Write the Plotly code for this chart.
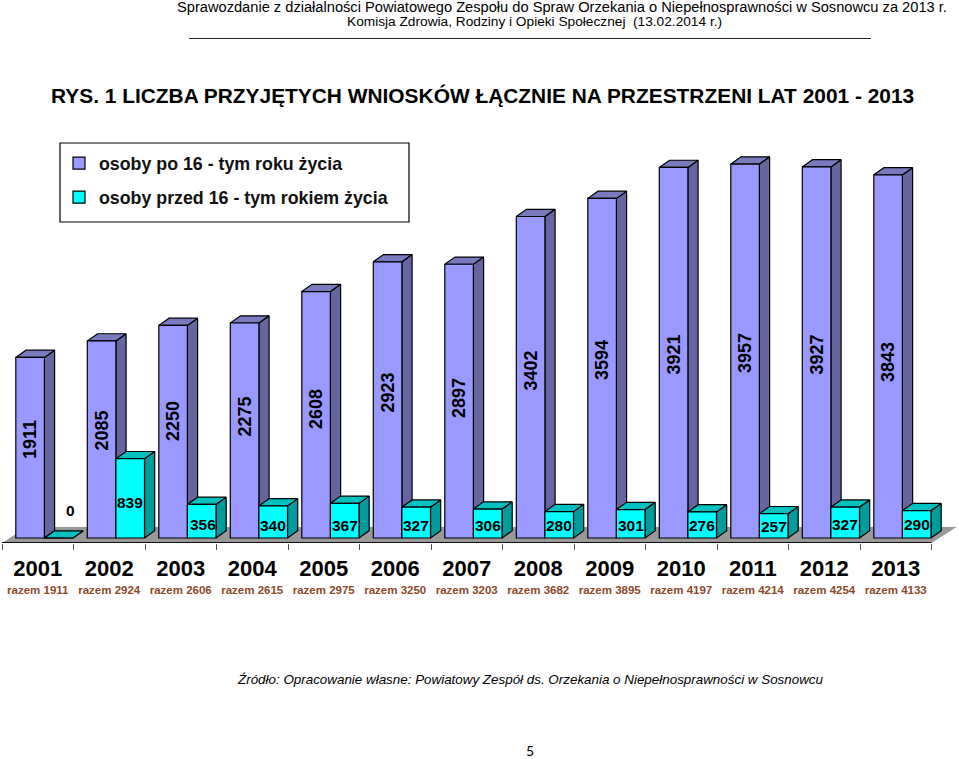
import plotly.graph_objects as go

# ---- data ----
years = ["2001","2002","2003","2004","2005","2006","2007","2008","2009","2010","2011","2012","2013"]
over_16 = [1911,2085,2250,2275,2608,2923,2897,3402,3594,3921,3957,3927,3843]
under_16 = [0,839,356,340,367,327,306,280,301,276,257,327,290]
totals = [1911,2924,2606,2615,2975,3250,3203,3682,3895,4197,4214,4254,4133]
name_over = "osoby po 16 - tym roku życia"
name_under = "osoby przed 16 - tym rokiem życia"

# ---- geometry (page pixels) ----
W, H = 959, 759
PX_X = 71.5          # px per category
PX_Y = 0.0945        # px per value
LEFT = 2             # px of first category boundary
BASE = 538           # px of value 0
AXIS = 543           # px of axis line
TOP = 100
RIGHT = 958
FONT = "Liberation Sans"

x_rng = [-0.5, -0.5 + (RIGHT - LEFT) / PX_X]
y_rng = [-(AXIS - BASE) / PX_Y, (BASE - TOP) / PX_Y]
OFF_A, OFF_B, BW = -0.307, 0.093, 0.40
DX, DY = 10.2 / PX_X, 7.2 / PX_Y
FDX, FDY = 25 / PX_X, 16 / PX_Y
n = len(years)
xs = list(range(n))

def faces(vals, off):
    tx, ty, sx, sy = [], [], [], []
    for i, v in zip(xs, vals):
        l, r = i + off, i + off + BW
        tx += [l, r, r + DX, l + DX, l, None]
        ty += [v, v, v + DY, v + DY, v, None]
        sx += [r, r + DX, r + DX, r, r, None]
        sy += [0, DY, v + DY, v, 0, None]
    return tx, ty, sx, sy

fig = go.Figure()

def poly(x, y, fill, z, line=1.2):
    fig.add_trace(go.Scatter(x=x, y=y, mode="lines", fill="toself", fillcolor=fill,
                             line=dict(color="#000000" if line else fill, width=line or 0.1),
                             showlegend=False, hoverinfo="skip", zorder=z))

# floor
fy0 = y_rng[0]
poly([-0.5, 12.5, 12.5 + FDX, -0.5 + FDX, -0.5], [fy0, fy0, fy0 + FDY, fy0 + FDY, fy0], "#999999", 0, 0)
fig.add_trace(go.Scatter(x=[-0.5, 12.5], y=[fy0, fy0], mode="lines", line=dict(color="#111111", width=2),
                         showlegend=False, hoverinfo="skip", zorder=0, cliponaxis=False))

# purple series
tx, ty, sx, sy = faces(over_16, OFF_A)
poly(sx, sy, "#66669F", 1)
poly(tx, ty, "#7A7ABF", 1)
fig.add_trace(go.Bar(x=xs, y=over_16, offset=OFF_A, width=BW, name=name_over, marker=dict(color="#9999FF", line=dict(color="#000000", width=1.2)), zorder=2, hoverinfo="skip", legendgroup="a"))
# cyan series
tx, ty, sx, sy = faces(under_16, OFF_B)
poly(sx, sy, "#009C9C", 3)
poly(tx, ty, "#00C0C0", 3)
fig.add_trace(go.Bar(x=xs, y=under_16, offset=OFF_B, width=BW, name=name_under, marker=dict(color="#00FFFF", line=dict(color="#000000", width=1.2)), zorder=4, hoverinfo="skip", legendgroup="b"))

def pxx(p): return (p - LEFT) / (RIGHT - LEFT)
def pxy(p): return (AXIS - p) / (AXIS - TOP)

ann = []
def text(t, x, y, size, bold=False, italic=False, color="#000000", font=FONT, anchor="center"):
    if bold: t = f"<b>{t}</b>"
    if italic: t = f"<i>{t}</i>"
    ann.append(dict(text=t, x=pxx(x), y=pxy(y), xref="paper", yref="paper", showarrow=False,
                    xanchor=anchor, yanchor="middle", font=dict(family=font, size=size, color=color)))

text("Sprawozdanie z działalności Powiatowego Zespołu do Spraw Orzekania o Niepełnosprawności w Sosnowcu za 2013 r.", 562, 7, 14.65)
text("Komisja Zdrowia, Rodziny i Opieki Społecznej  (13.02.2014 r.)", 534.5, 22, 13.7)
text("RYS. 1 LICZBA PRZYJĘTYCH WNIOSKÓW ŁĄCZNIE NA PRZESTRZENI LAT 2001 - 2013", 482.5, 96, 20.9, bold=True)
text("Źródło: Opracowanie własne: Powiatowy Zespół ds. Orzekania o Niepełnosprawności w Sosnowcu", 530, 679, 13.4, italic=True)
text("5", 530, 750.5, 14, font="Lato")

# value labels
over_label_px = [440,431,421,417,409,393,398,371,360,355,353,355,362]
under_label_px = [510,502,524,525,525,525,525,525,525,525,526,524,524]
under_label_dx = [12,0,1,0,0,0,0,0,0,0,0,0,0]
for i in xs:
    ann.append(dict(text=f"<b>{over_16[i]}</b>", x=i + OFF_A + BW / 2, y=(BASE - over_label_px[i]) / PX_Y, xref="x", yref="y",
                    showarrow=False, textangle=-90, font=dict(family=FONT, size=18, color="#000000")))
    ann.append(dict(text=f"<b>{under_16[i]}</b>", x=i + OFF_B + BW / 2, y=(BASE - under_label_px[i]) / PX_Y, xref="x", yref="y",
                    xshift=under_label_dx[i], showarrow=False, font=dict(family=FONT, size=15.5, color="#000000")))

ticktext = [f'<span style="font-size:22px;font-weight:bold">{y}</span><br>'
            f'<span style="font-size:11.5px;font-weight:bold;color:#8B4A2A">razem {t}</span>' for y, t in zip(years, totals)]

fig.update_layout(
    width=W, height=H, margin=dict(l=LEFT, r=W - RIGHT, t=TOP, b=H - AXIS, pad=0),
    paper_bgcolor="#FFFFFF", plot_bgcolor="rgba(0,0,0,0)",
    barmode="overlay",
    xaxis=dict(range=x_rng, tickmode="array", tickvals=xs, ticktext=ticktext, ticks="", showgrid=False, zeroline=False,
               showline=False, tickfont=dict(family=FONT, size=14.5, color="#000000"), ticklen=0, ticklabelstandoff=17,
               minor=dict(ticks="outside", tick0=-0.5, dtick=1, ticklen=6, tickwidth=1, tickcolor="#555555", showgrid=False)),
    yaxis=dict(range=y_rng, visible=False, showgrid=False, zeroline=False),
    annotations=ann,
    showlegend=True,
    legend=dict(x=pxx(59), y=pxy(145), xanchor="left", yanchor="top", bgcolor="rgba(0,0,0,0)", borderwidth=0,
                traceorder="grouped", tracegroupgap=8, font=dict(family=FONT, size=17.8, color="#111111", weight="bold")),
    shapes=[
        dict(type="rect", xref="paper", yref="paper", x0=pxx(60), x1=pxx(409), y0=pxy(143), y1=pxy(222), line=dict(color="#000000", width=1.2), layer="below"),
        dict(type="line", xref="paper", yref="paper", x0=pxx(189), x1=pxx(871), y0=pxy(38.5), y1=pxy(38.5), line=dict(color="#222222", width=1.2)),
    ],
)
fig.write_html("out.html", config={"displayModeBar": False}, post_script="document.body.style.margin='0';")
